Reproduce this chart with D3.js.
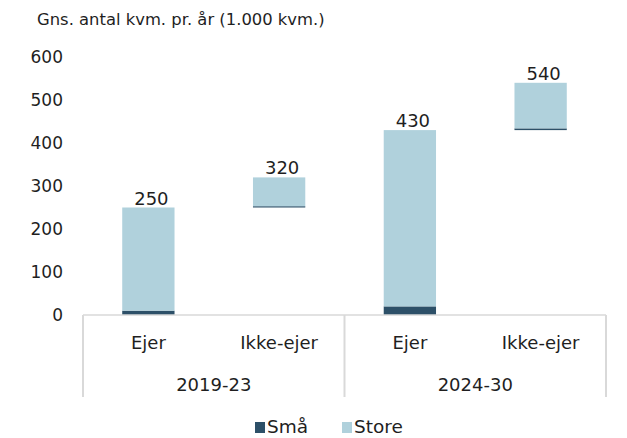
<!DOCTYPE html>
<html>
<head>
<meta charset="utf-8">
<script src="https://cdn.jsdelivr.net/npm/d3@7/dist/d3.min.js"></script>
<style>
  html, body { margin: 0; padding: 0; background: #fff; }
  svg { display: block; font-family: "DejaVu Sans", sans-serif; }
</style>
</head>
<body>
<svg id="chart" width="627" height="438"></svg>
<script>
// Bars: owner / non-owner per period, stacked small + large, floating waterfall style
const categories = ["Ejer", "Ikke-ejer", "Ejer", "Ikke-ejer"];
const periods = ["2019-23", "2024-30"];
const offsets = [0, 250, 0, 430];      // invisible base for the floating bars
const smaa = [10, 3, 20, 4];           // Små
const store = [240, 67, 410, 106];     // Store
const totals = [250, 320, 430, 540];   // labelled running total
const yTicks = [0, 100, 200, 300, 400, 500, 600];
const seriesNames = ["Små", "Store"];
const colors = { "Små": "#2d5068", "Store": "#b0d1dc" };
const textColor = "#1f1f1f";

const svg = d3.select("#chart");

const x = d3.scaleBand()
  .domain(d3.range(categories.length))
  .range([83, 606])
  .paddingInner(0.6)
  .paddingOuter(0.3);

const y = d3.scaleLinear().domain([0, 600]).range([315, 57]);

// Title
svg.append("text")
  .attr("x", 37).attr("y", 25)
  .attr("font-size", 16.4).attr("fill", textColor)
  .text("Gns. antal kvm. pr. år (1.000 kvm.)");

// Y axis (labels only)
const yAxis = d3.axisLeft(y).tickValues(yTicks).tickSize(0).tickPadding(0);
const yg = svg.append("g").attr("transform", "translate(63,0)").call(yAxis);
yg.select(".domain").remove();
yg.selectAll("text").attr("font-size", 17).attr("fill", textColor)
  .attr("font-family", "'DejaVu Sans', sans-serif");

// Stacks, each lifted by its base value
const rows = categories.map((c, i) => ({ i, base: offsets[i], "Små": smaa[i], "Store": store[i] }));
const stack = d3.stack().keys(seriesNames)
  .value((d, k) => d[k])
  .offset((series, order) => {
    d3.stackOffsetNone(series, order);
    for (const s of series) for (let j = 0; j < s.length; j++) {
      s[j][0] += rows[j].base; s[j][1] += rows[j].base;
    }
  });
const stacked = stack(rows);

svg.append("g").selectAll("g")
  .data(stacked).join("g")
  .attr("fill", d => colors[d.key])
  .selectAll("rect")
  .data(d => d).join("rect")
  .attr("x", (d, j) => x(j))
  .attr("width", x.bandwidth())
  .attr("y", d => y(d[1]))
  .attr("height", d => y(d[0]) - y(d[1]));

// Value labels
svg.append("g").selectAll("text")
  .data(totals).join("text")
  .attr("x", (d, i) => x(i) + x.bandwidth() / 2 + 3)
  .attr("y", d => y(d) - 3)
  .attr("text-anchor", "middle")
  .attr("font-size", 18).attr("fill", textColor)
  .text(d => d);

// Category axis: baseline and group separators
const axisColor = "#d9d9d9";
const [x0, x1] = x.range();
const xm = (x0 + x1) / 2;
svg.append("line").attr("x1", x0).attr("x2", x1).attr("y1", y(0)).attr("y2", y(0))
  .attr("stroke", axisColor).attr("stroke-width", 1.5);
[x0, xm, x1].forEach(px => {
  svg.append("line").attr("x1", px).attr("x2", px).attr("y1", y(0)).attr("y2", 397)
    .attr("stroke", axisColor).attr("stroke-width", 2);
});

svg.append("g").selectAll("text")
  .data(categories).join("text")
  .attr("x", (d, i) => x(i) + x.bandwidth() / 2)
  .attr("y", 349)
  .attr("text-anchor", "middle")
  .attr("font-size", 18).attr("fill", textColor)
  .text(d => d);

svg.append("g").selectAll("text")
  .data(periods).join("text")
  .attr("x", (d, i) => (x(i * 2) + x(i * 2 + 1) + x.bandwidth()) / 2)
  .attr("y", 391)
  .attr("text-anchor", "middle")
  .attr("font-size", 18).attr("fill", textColor)
  .text(d => d);

// Legend
const legendX = [255, 342];
const lg = svg.append("g").selectAll("g")
  .data(seriesNames).join("g")
  .attr("transform", (d, i) => `translate(${legendX[i]},0)`);
lg.append("rect").attr("x", 0).attr("y", 422).attr("width", 10).attr("height", 11)
  .attr("fill", d => colors[d]);
lg.append("text").attr("x", 12).attr("y", 433)
  .attr("font-size", 18.5).attr("fill", textColor)
  .text(d => d);
</script>
</body>
</html>
